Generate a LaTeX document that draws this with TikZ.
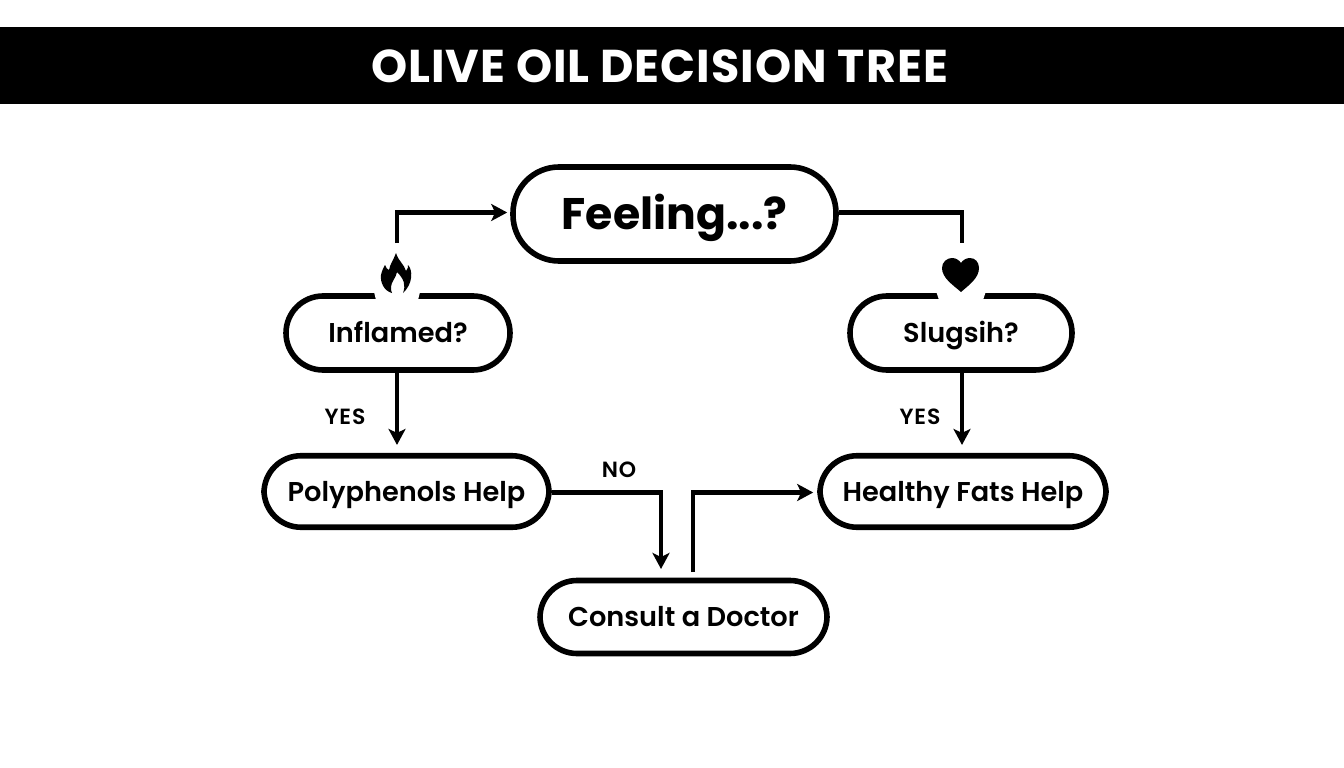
\documentclass[tikz,border=0pt]{standalone}
\usepackage{fontspec}
\setmainfont{Poppins}[BoldFont={Poppins SemiBold}]
\newfontfamily\titlefont[LetterSpace=2.2]{Poppins Bold}
\newfontfamily\headfont{Poppins Bold}
\newfontfamily\tagfont[LetterSpace=4]{Poppins SemiBold}
\usetikzlibrary{arrows.meta,calc}
\tikzset{
  x=1pt,y=-1pt,
  box/.style={draw=black,line width=5.6pt,rounded corners=37pt,fill=white,inner sep=0pt,align=center},
  small/.style={font=\fontsize{27.2}{30}\selectfont\bfseries,text height=24pt,text depth=5pt},
  link/.style={draw=black,line width=4.2pt,line join=miter},
  arr/.style={link,-{Stealth[length=16pt,width=17pt,inset=4pt]}},
  tag/.style={font=\fontsize{22}{24}\selectfont\tagfont,inner sep=0pt},
}
\begin{document}
\begin{tikzpicture}
\useasboundingbox (0,0) rectangle (1344,768);
\fill[white] (0,0) rectangle (1344,768);
\fill[black] (0,27) rectangle (1344,104);
\node[font=\fontsize{46}{50}\selectfont\titlefont,text=white,inner sep=0pt] (title) at (659.5,66) {OLIVE OIL DECISION TREE};

\node[box,minimum width=323pt,minimum height=94pt,rounded corners=46pt,font=\fontsize{44.2}{50}\selectfont\headfont,text height=40pt,text depth=9pt] (feel) at (674.5,214) {Feeling...?};
\node[box,small,minimum width=224pt,minimum height=74pt] (infl) at (398,333) {Inflamed?};
\node[box,small,minimum width=222pt,minimum height=74pt] (slug) at (961,333) {Slugsih?};
\node[box,small,minimum width=285pt,minimum height=71.5pt] (poly) at (406.5,491.5) {Polyphenols Help};
\node[box,small,minimum width=286pt,minimum height=71.5pt] (heal) at (963,491.5) {Healthy Fats Help};
\node[box,small,minimum width=287pt,minimum height=73pt] (cons) at (683.5,617) {Consult a Doctor};

% icon gaps in the box borders
\fill[white] (373,288) -- (421,288) -- (418,300) -- (376,300) -- cycle;
\fill[white] (935,288) -- (987,288) -- (983,300) -- (939,300) -- cycle;

% flame
\fill[black,even odd rule]
  (396,253) .. controls (399,262) and (404,264) .. (406,271)
  .. controls (408,269) and (408,267) .. (408,265)
  .. controls (413,270) and (413,284) .. (403,293)
  .. controls (406,285) and (404,279) .. (397,272)
  .. controls (396,278) and (391,282) .. (391,287)
  .. controls (391,290) and (391,291) .. (392,293)
  .. controls (384,291) and (380,282) .. (381,275)
  .. controls (382,271) and (383,268) .. (385,265)
  .. controls (386,268) and (387,269) .. (389,270)
  .. controls (390,264) and (394,259) .. (396,253) -- cycle;
% heart
\fill[black]
  (961,292) .. controls (953,285) and (942,278) .. (942,268)
  .. controls (942,262) and (947,258) .. (952,258)
  .. controls (956,258) and (959,260) .. (961,263)
  .. controls (963,260) and (966,258) .. (970,258)
  .. controls (975,258) and (979,262) .. (979,268)
  .. controls (979,278) and (969,285) .. (961,292) -- cycle;

% free ends
\coordinate (fa) at (397,243);
\coordinate (ha) at (962,243);
\coordinate (pe) at (661,569);
\coordinate (cs) at (693,572);

\draw[arr,shorten >=3pt] (fa) |- ($(feel.west)+(0,-1.5)$);
\draw[link] ($(feel.east)+(0,-1.5)$) -| (ha);
\draw[arr] (infl.south -| fa) -- ($(poly.north -| fa)+(0,-8)$);
\draw[arr] (slug.south -| ha) -- ($(heal.north -| ha)+(0,-8)$);
\draw[arr] ($(poly.east)+(0,1)$) -| (pe);
\draw[arr,shorten >=4pt] (cs) |- ($(heal.west)+(0,1)$);

\node[tag] (y1) at (345,417) {YES};
\node[tag] (y2) at (920,417) {YES};
\node[tag] (no) at (619,470) {NO};
\end{tikzpicture}
\end{document}
